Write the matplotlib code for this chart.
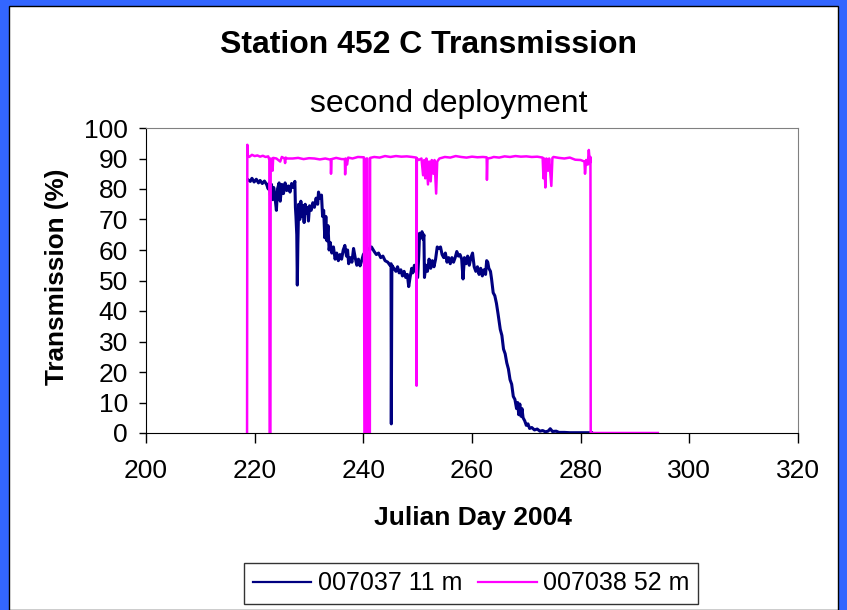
import matplotlib
matplotlib.use("Agg")
import matplotlib.pyplot as plt
from matplotlib.patches import Rectangle

plt.rcParams['font.family'] = ['Liberation Sans', 'DejaVu Sans']

# ---- data ----
blue_day = [218.8, 219.2, 219.5, 219.9, 220.3, 220.7, 221.0, 221.4, 221.8, 222.2, 222.5, 222.7, 222.9, 223.1,
            223.3, 223.5, 223.7, 224.0, 224.2, 224.5, 224.7, 225.0, 225.3, 225.6, 225.9, 226.2, 226.5, 226.8,
            227.1, 227.4, 227.5, 227.6, 227.75, 227.85, 227.95, 228.1, 228.3, 228.5, 228.7, 228.9, 229.1,
            229.3, 229.5, 229.7, 229.9, 230.1, 230.4, 230.7, 231.0, 231.3, 231.6, 231.75, 232.0, 232.3, 232.5,
            232.7, 232.9, 233.1, 233.3, 233.5, 233.7, 233.9, 234.2, 234.5, 234.8, 235.1, 235.4, 235.7, 236.0,
            236.3, 236.6, 236.9, 237.1, 237.3, 237.6, 237.9, 238.2, 238.5, 238.8, 239.1, 239.4, 239.7, 240.0,
            240.4, 240.8, 241.2, 241.5, 242.0, 242.4, 242.8, 243.2, 243.6, 244.0, 244.5, 244.9, 245.1, 245.15,
            245.25, 245.6, 246.0, 246.3, 246.6, 246.9, 247.2, 247.5, 247.8, 248.1, 248.35, 248.6, 248.9, 249.1,
            249.4, 249.7, 250.0, 250.2, 250.35, 250.6, 250.8, 251.0, 251.15, 251.25, 251.5, 251.8, 252.1, 252.4,
            252.7, 253.0, 253.3, 253.6, 253.9, 254.2, 254.5, 254.8, 255.1, 255.4, 255.7, 256.0, 256.3, 256.6,
            256.9, 257.2, 257.5, 257.8, 258.1, 258.35, 258.6, 258.9, 259.2, 259.5, 259.8, 260.1, 260.4, 260.7,
            261.0, 261.3, 261.6, 261.9, 262.2, 262.5, 262.7, 262.9, 263.1, 263.4, 263.6, 263.9, 264.2, 264.5,
            264.8, 265.2, 265.5, 265.8, 266.1, 266.4, 266.7, 267.0, 267.3, 267.6, 267.9, 268.2, 268.4, 268.6,
            268.8, 269.0, 269.2, 269.4, 269.7, 270.0, 270.3, 270.6, 271.0, 271.5, 272.0, 272.5, 273.0, 273.5,
            274.0, 274.4, 274.8, 275.5, 276.0, 277.0, 278.0, 282.0]
blue_val = [83.0, 82.5, 83.5, 82.3, 83.2, 82.0, 82.8, 81.8, 82.6, 81.5, 80.0, 82.0, 78.0, 81.5,
            76.5, 80.5, 78.0, 73.0, 80.0, 82.0, 76.0, 81.5, 78.5, 82.0, 79.5, 81.0, 79.0, 81.8,
            80.5, 82.5, 74.0, 71.0, 65.0, 48.5, 62.0, 75.0, 70.0, 76.0, 71.0, 74.5, 69.0,
            75.0, 72.0, 74.0, 69.5, 74.5, 73.0, 75.5, 74.0, 77.0, 75.0, 79.0, 77.0, 78.0, 71.0,
            73.0, 64.0, 71.0, 63.0, 68.0, 60.0, 62.5, 59.0, 61.0, 57.0, 59.0, 56.5, 58.5, 57.0,
            60.0, 61.5, 58.0, 60.0, 55.5, 57.5, 56.0, 60.5, 57.5, 55.0, 57.0, 54.8, 56.5, 58.5,
            59.5, 60.5, 60.0, 61.0, 59.5, 58.5, 59.0, 57.5, 58.0, 56.5, 56.0, 55.0, 55.5, 3.0,
            55.0, 54.0, 53.0, 54.5, 52.5, 53.5, 51.5, 53.0, 51.0, 52.0, 48.0, 51.0, 54.0, 52.5,
            55.0, 53.0, 51.0, 58.0, 65.5, 64.0, 66.0, 63.5, 65.0, 51.0, 55.0, 53.0, 57.0, 54.0,
            56.5, 54.5, 57.0, 61.0, 60.5, 61.0, 58.5, 57.5, 59.0, 56.0, 57.5, 55.5, 57.5, 56.0,
            57.5, 59.5, 58.0, 58.5, 57.0, 50.5, 57.5, 55.5, 58.0, 55.0, 57.5, 59.0, 54.5, 53.0,
            54.5, 52.0, 54.0, 51.5, 53.5, 52.0, 56.5, 56.0, 54.0, 53.0, 50.5, 46.0, 45.0, 42.5,
            39.0, 34.0, 32.0, 27.5, 26.0, 23.0, 21.0, 17.5, 16.0, 12.0, 11.0, 8.0, 10.0, 6.0,
            9.5, 5.5, 8.0, 5.0, 4.0, 2.5, 3.0, 1.5, 1.8, 1.0, 1.3, 0.6, 0.8, 0.4,
            0.6, 1.4, 0.5, 0.6, 0.2, 0.2, 0.1, 0.1]

mag_day = [218.6, 218.65, 218.75, 219.0, 219.5, 220.0, 220.5, 221.0, 221.5, 222.0, 222.5, 222.7, 222.75,
           222.9, 222.95, 223.2, 223.3, 223.4, 224.0, 224.7, 225.0, 225.5, 225.6, 225.7, 226.0, 227.0, 228.0,
           229.0, 230.0, 231.0, 232.0, 233.0, 234.0, 234.05, 234.15, 235.0, 236.0, 236.6, 236.65, 236.75,
           237.0, 237.2, 238.0, 239.0, 240.1, 240.2, 240.5, 240.55, 240.75, 240.8, 241.2, 241.25, 242.0,
           243.0, 244.0, 245.0, 246.0, 247.0, 248.0, 249.0, 249.75, 249.8, 249.85, 250.2, 250.7, 251.0,
           251.2, 251.4, 251.6, 251.9, 252.1, 252.4, 252.6, 252.9, 253.1, 253.4, 253.6, 254.0, 255.0, 256.0,
           257.0, 258.0, 259.0, 260.0, 261.0, 262.0, 262.7, 262.75, 262.85, 263.5, 264.0, 265.0, 266.0,
           267.0, 268.0, 269.0, 270.0, 271.0, 272.0, 273.0, 273.15, 273.3, 273.5, 273.7, 274.0, 274.2,
           274.6, 274.8, 275.0, 276.0, 277.0, 278.0, 279.0, 280.0, 280.7, 280.8, 281.0, 281.3, 281.5,
           281.7, 281.8, 281.85, 294.2]
mag_val = [0.0, 94.5, 91.0, 90.5, 91.2, 90.8, 91.0, 90.6, 90.9, 90.5, 90.7, 89.5, 0.0,
           0.0, 90.0, 89.8, 86.0, 90.2, 90.0, 89.0, 90.5, 90.0, 88.5, 90.3, 90.0, 90.0, 90.2,
           89.8, 90.1, 90.0, 89.7, 90.0, 89.6, 85.0, 89.8, 90.2, 89.8, 89.8, 84.8, 90.0,
           88.0, 90.3, 90.0, 90.5, 90.4, 0.0, 0.0, 90.0, 90.0, 0.0, 0.0, 90.2, 90.5,
           90.3, 90.8, 90.5, 90.8, 90.6, 90.7, 90.5, 90.3, 15.5, 90.0, 89.5, 90.0, 84.5,
           89.5, 83.5, 90.0, 81.5, 89.0, 82.5, 89.5, 85.0, 89.5, 78.5, 89.0, 90.0, 90.5, 90.3,
           90.8, 90.5, 90.3, 90.6, 90.4, 90.5, 90.4, 83.0, 90.0, 90.2, 90.5, 90.3, 90.7,
           90.5, 90.8, 90.6, 90.7, 90.5, 90.6, 90.3, 83.5, 90.0, 80.5, 90.0, 86.0, 90.0,
           81.0, 90.2, 90.5, 90.2, 90.0, 90.3, 89.6, 89.5, 89.0, 85.0, 89.5, 88.0, 92.8,
           88.5, 90.5, 0.0, 0.0]

labels = ["007037 11 m", "007038 52 m"]
xticks = [200, 220, 240, 260, 280, 300, 320]
yticks = list(range(0, 101, 10))

W, H = 847, 610
fig = plt.figure(figsize=(W / 100, H / 100), dpi=100)
fig.patch.set_facecolor('#3366FF')
fig.patches.append(Rectangle((9 / W, 0), (838 - 9) / W, (H - 6) / H, transform=fig.transFigure,
                             facecolor='white', edgecolor='black', linewidth=1.0, zorder=-5))

ax = fig.add_axes([146 / W, 1 - 433 / H, (798 - 146) / W, (433 - 128) / H])
ax.set_zorder(2)
ax.set_facecolor('white')
l1, = ax.plot(blue_day, blue_val, color='#000080', linewidth=2.2, label=labels[0])
l2, = ax.plot(mag_day, mag_val, color='#FF00FF', linewidth=1.8, label=labels[1])

ax.set_xlim(200, 320)
ax.set_ylim(0, 100)
ax.set_xticks(xticks)
ax.set_yticks(yticks)
ax.tick_params(axis='both', direction='out', colors='black', labelsize=19, width=1)
ax.tick_params(axis='x', length=7, pad=12)
ax.tick_params(axis='y', length=5, pad=8)
for s in ['top', 'right']:
    ax.spines[s].set_color('#808080')
for s in ['left', 'bottom']:
    ax.spines[s].set_color('black')

fig.text(428 / W, 1 - 45 / H, "Station 452 C Transmission", ha='center', va='center',
         fontsize=23, fontweight='bold')
fig.text(449 / W, 1 - 104 / H, "second deployment", ha='center', va='center', fontsize=23)
fig.text(473 / W, 1 - 518 / H, "Julian Day 2004", ha='center', va='center', fontsize=19, fontweight='bold')
fig.text(57 / W, 1 - 277 / H, "Transmission (%)", ha='center', va='center', rotation=90,
         fontsize=18.8, fontweight='bold')

leg = fig.legend(handles=[l1, l2], labels=labels, loc='center', bbox_to_anchor=(471 / W, 1 - 583.5 / H),
                 ncol=2, fontsize=18, frameon=True, fancybox=False, shadow=False,
                 handlelength=2.35, handletextpad=0.25, columnspacing=0.65, borderpad=0.35)
leg.get_frame().set_edgecolor('black')
leg.get_frame().set_linewidth(1.0)
for ln in leg.get_lines():
    ln.set_linewidth(1.6)

fig.savefig('out.png', dpi=100, facecolor=fig.get_facecolor())
